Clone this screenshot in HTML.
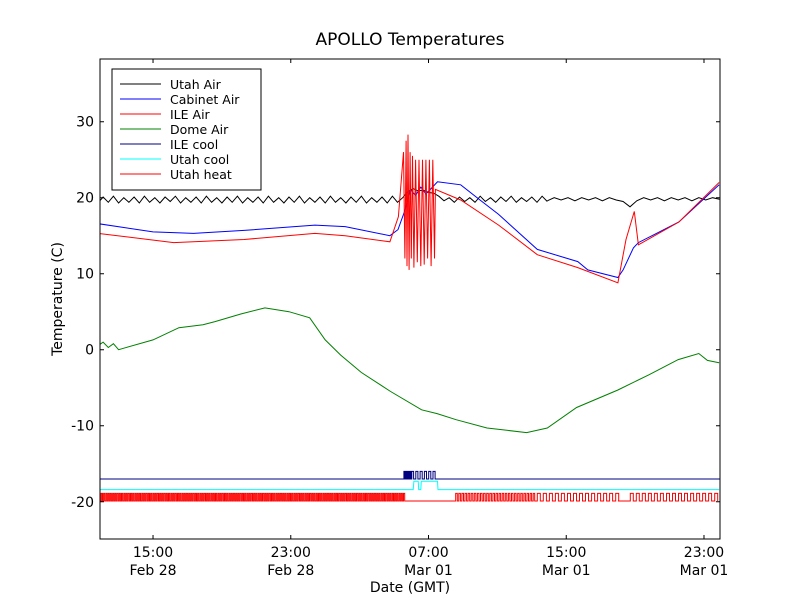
<!DOCTYPE html>
<html><head><meta charset="utf-8"><style>
body{margin:0;background:#fff;width:800px;height:600px;overflow:hidden}
svg text{font-family:"DejaVu Sans","Liberation Sans",sans-serif}
</style></head><body>
<svg id="chart" width="800" height="600">
<defs><clipPath id="clip"><rect x="100" y="59" width="620" height="480"/></clipPath></defs>
<rect width="800" height="600" fill="#fff"/>
<text x="410" y="45" font-size="17" text-anchor="middle">APOLLO Temperatures</text>
<g id="plot" clip-path="url(#clip)"></g>
<rect x="100" y="59" width="620" height="480" fill="none" stroke="#000" stroke-width="1"/>
<g id="axes"></g>
<text x="62" y="299" font-size="14" text-anchor="middle" transform="rotate(-90 62 299)">Temperature (C)</text>
<text x="410" y="592" font-size="14" text-anchor="middle">Date (GMT)</text>
<g id="legend"></g>
</svg>
<script>
const xTicks=[15,23,31,39,47];
const xTickTop=["15:00","23:00","07:00","15:00","23:00"];
const xTickBot=["Feb 28","Feb 28","Mar 01","Mar 01","Mar 01"];
const yTicks=[30,20,10,0,-10,-20];
const yTickLabels=["30","20","10","0","-10","-20"];
const cabT=[11.48,15.0,17.35,20.29,24.4,26.16,28.76,29.23,29.64,29.93,30.25,30.55,30.85,31.15,31.52,32.87,33.99,35.07,37.32,39.67,40.25,42.0,42.3,42.9,43.19,45.54,47.88];
const cabV=[16.7,15.5,15.3,15.7,16.4,16.2,15.0,15.8,18.4,21.1,20.3,21.4,20.5,21.2,22.1,21.7,19.7,17.8,13.2,11.6,10.5,9.5,10.5,13.4,14.1,16.8,21.7];
const ileT=[11.48,16.2,20.29,24.4,26.16,28.76,29.25,29.55,29.63,29.7,29.75,29.81,29.87,29.93,30.0,30.07,30.15,30.25,30.35,30.45,30.55,30.65,30.75,30.85,30.95,31.05,31.15,31.25,31.35,31.4,32.87,35.07,37.32,39.67,42.0,42.47,42.95,43.19,45.54,47.88];
const ileV=[15.4,14.1,14.5,15.3,15.0,14.2,17.5,26.0,12.0,27.5,11.0,28.3,10.5,26.0,12.0,25.5,10.8,25.0,11.5,25.0,11.0,25.0,11.2,25.0,12.0,25.0,11.0,25.0,12.0,21.1,19.7,16.4,12.5,10.8,8.8,14.5,18.2,13.8,16.8,22.0];
const domeT=[11.48,11.8,12.1,12.4,12.7,13.0,13.3,15.0,16.5,17.9,18.6,20.1,21.5,22.9,24.1,25.0,25.9,27.1,28.8,30.6,31.5,32.6,34.4,36.7,37.9,39.6,42.0,43.8,45.5,46.7,47.2,47.88];
const domeV=[0.9,0.5,1.0,0.3,0.8,0.0,0.2,1.3,2.9,3.3,3.7,4.7,5.5,5.0,4.2,1.3,-0.7,-3.0,-5.5,-7.9,-8.4,-9.2,-10.3,-10.9,-10.3,-7.6,-5.3,-3.3,-1.3,-0.5,-1.4,-1.7];
const uaStart=11.8, uaStep=0.3;
const uaV="19.3 20.1 19.4 20.2 19.3 20.0 19.4 20.1 19.3 20.2 19.4 20.0 19.3 20.1 19.5 20.2 19.3 20.0 19.4 20.1 19.3 20.2 19.4 20.0 19.3 20.1 19.4 20.2 19.3 20.0 19.4 20.1 19.3 20.2 19.4 20.0 19.3 20.1 19.4 20.2 19.3 20.0 19.4 20.1 19.3 20.2 19.4 20.0 19.3 20.1 19.4 20.2 19.3 20.0 19.4 20.1 19.3 20.2 19.4 20.0 20.8 21.2 20.9 21.0 20.7 20.6 20.2 19.6 20.0 19.4 20.1 19.5 20.0 19.4 20.2 19.5 20.0 19.4 20.1 19.5 20.2 19.4 20.0 19.5 20.1 19.4 20.2 19.5".split(" ").map(Number);
const ua2Start=37.9, ua2Step=0.4;
const ua2V="19.6 20.0 19.7 20.0 19.6 20.0 19.7 20.0 19.6 20.0 19.7 19.5 18.8 19.6 20.0 19.7 20.0 19.6 20.0 19.7 20.0 19.6 20.0 19.7 20.0 19.8".split(" ").map(Number);
const heatSegT=[[11.48,29.64],[29.64,32.58],[32.58,37.2],[37.32,42.0],[42.0,42.72],[42.72,47.88]];
const heatSegPeriod=[0.13,0,0.18,0.35,0,0.35];
const heatOn=-18.9, heatOff=-19.9;
const ileCoolSegT=[[29.57,30.01],[30.01,31.29]];
const ileCoolPeriod=[0.04,0.25];
const ileCoolBase=-17.0, ileCoolHigh=-16.0;
const utahCoolT=[11.48,30.11,30.15,30.4,30.43,30.55,30.58,31.52,31.55,47.88];
const utahCoolV=[-18.4,-18.4,-17.3,-17.3,-18.4,-18.4,-17.3,-17.3,-18.4,-18.4];
const legendNames=["Utah Air","Cabinet Air","ILE Air","Dome Air","ILE cool","Utah cool","Utah heat"];
const legendColors=["#000","#0000ff","#ff0000","#008000","#000080","#00ffff","#ff0000"];

const X0=100,X1=720,Y0=59,Y1=539,hMin=11.92,hMax=47.93,vMin=-24.9,vMax=38.25;
const sx=h=>X0+(h-hMin)/(hMax-hMin)*(X1-X0);
const sy=v=>Y1-(v-vMin)/(vMax-vMin)*(Y1-Y0);
const NS="http://www.w3.org/2000/svg";
const plot=document.getElementById('plot'),axes=document.getElementById('axes'),legend=document.getElementById('legend');
function line(T,V,color,name){
  const p=document.createElementNS(NS,'polyline');
  p.setAttribute('points',T.map((t,i)=>sx(t).toFixed(1)+','+sy(V[i]).toFixed(1)).join(' '));
  p.setAttribute('fill','none');p.setAttribute('stroke',color);p.setAttribute('stroke-width','1');
  
  
  plot.appendChild(p);
}
function square(segs,periods,lo,hi){
  const T=[],V=[];
  segs.forEach((s,i)=>{
    const per=periods[i];
    if(per===0){T.push(s[0],s[1]);V.push(lo,lo);return;}
    for(let t=s[0];t<s[1];t+=per){
      T.push(t,t,t+per/2,t+per/2);V.push(lo,hi,hi,lo);
    }
  });
  return [T,V];
}
let hv=square(heatSegT,heatSegPeriod,heatOff,heatOn);
line(hv[0],hv[1],'#ff0000','utah-heat-line');
line(utahCoolT,utahCoolV,'#00ffff','utah-cool-line');
let ic=square(ileCoolSegT,ileCoolPeriod,ileCoolBase,ileCoolHigh);
line([11.0].concat(ic[0]).concat([48.5]),[ileCoolBase].concat(ic[1]).concat([ileCoolBase]),'#000080','ile-cool-line');
line(domeT,domeV,'#008000','dome-air-line');
line(uaV.map((v,i)=>uaStart+i*uaStep),uaV,'#000','utah-air-line');
line(ua2V.map((v,i)=>ua2Start+i*ua2Step),ua2V,'#000','utah-air-line-2');
line(cabT,cabV,'#0000ff','cabinet-air-line');
line(ileT,ileV,'#ff0000','ile-air-line');
xTicks.forEach((h,i)=>{
  const x=sx(h);
  const t=document.createElementNS(NS,'path');
  t.setAttribute('d',`M${x},${Y1}v-4M${x},${Y0}v4`);t.setAttribute('stroke','#000');
  
  
  axes.appendChild(t);
  [[xTickTop[i],557],[xTickBot[i],575]].forEach(([s,y])=>{
    const tx=document.createElementNS(NS,'text');
    tx.setAttribute('x',x);tx.setAttribute('y',y);tx.setAttribute('font-size','14');tx.setAttribute('text-anchor','middle');
    tx.textContent=s;
    
    
    axes.appendChild(tx);
  });
});
yTicks.forEach((v,i)=>{
  const y=sy(v);
  const t=document.createElementNS(NS,'path');
  t.setAttribute('d',`M${X0},${y}h4M${X1},${y}h-4`);t.setAttribute('stroke','#000');
  
  
  axes.appendChild(t);
  const tx=document.createElementNS(NS,'text');
  tx.setAttribute('x',94);tx.setAttribute('y',y+5);tx.setAttribute('font-size','14');tx.setAttribute('text-anchor','end');
  tx.textContent=yTickLabels[i];
  
  
  axes.appendChild(tx);
});
const box=document.createElementNS(NS,'rect');
box.setAttribute('x',112);box.setAttribute('y',69);box.setAttribute('width',149);box.setAttribute('height',121);
box.setAttribute('fill','#fff');box.setAttribute('stroke','#000');


legend.appendChild(box);
legendNames.forEach((n,i)=>{
  const y=84+i*15;
  const g=document.createElementNS(NS,'g');
  
  
  const l=document.createElementNS(NS,'line');
  l.setAttribute('x1',120);l.setAttribute('x2',161);l.setAttribute('y1',y);l.setAttribute('y2',y);l.setAttribute('stroke',legendColors[i]);
  const t=document.createElementNS(NS,'text');
  t.setAttribute('x',170);t.setAttribute('y',y+5);t.setAttribute('font-size','12.5');t.textContent=n;
  g.appendChild(l);g.appendChild(t);legend.appendChild(g);
});
</script>
</body></html>
